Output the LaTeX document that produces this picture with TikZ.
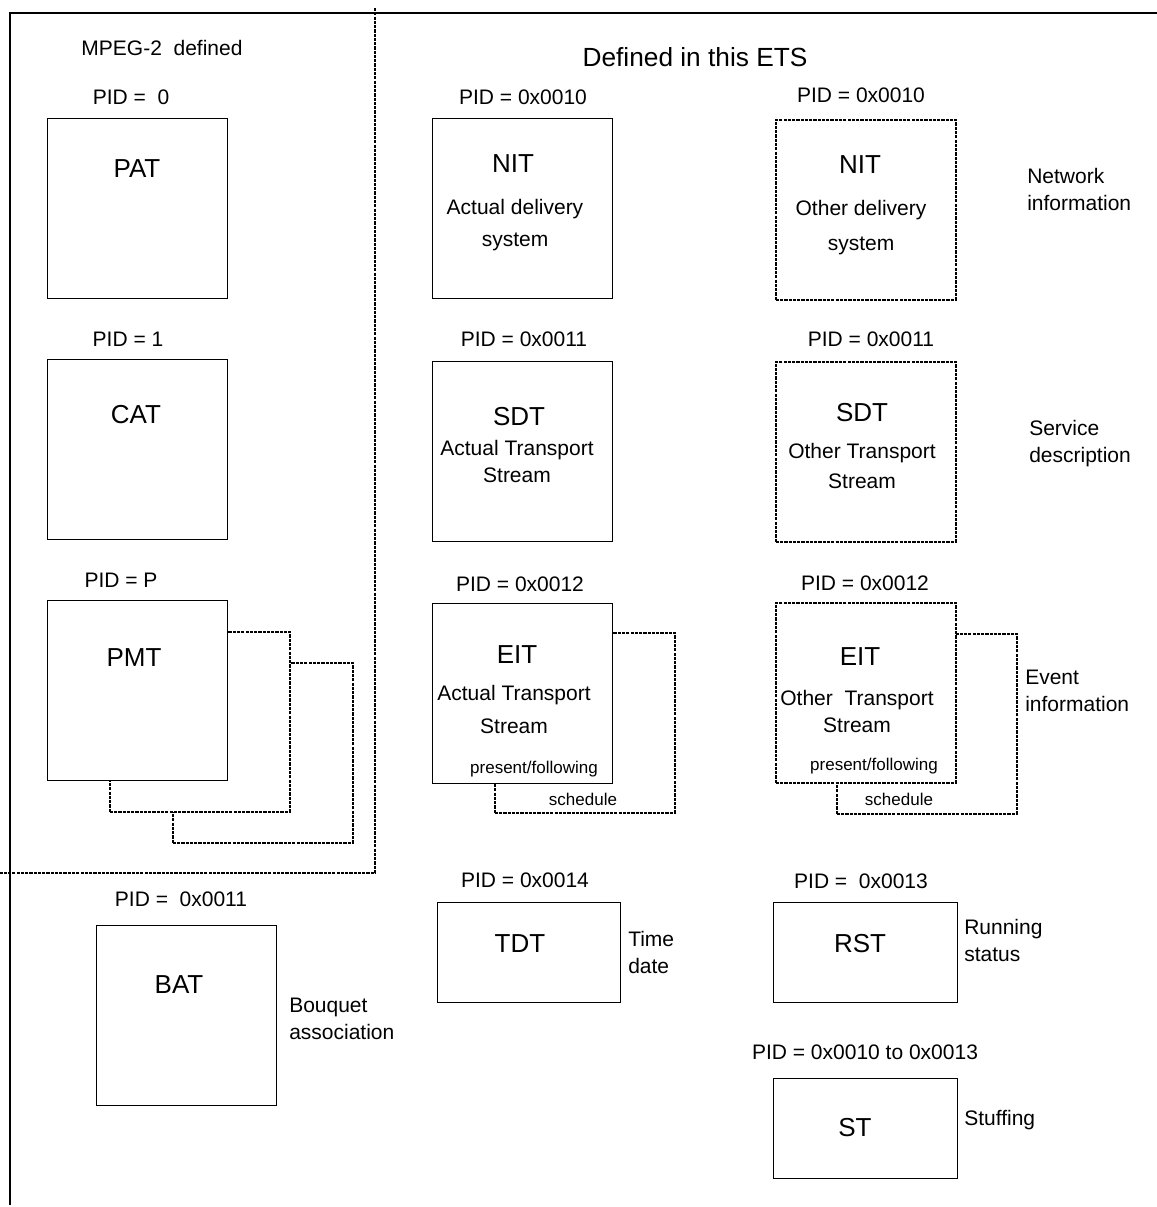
\documentclass[tikz,border=0pt]{standalone}
\usepackage{fontspec}
\setmainfont{Liberation Sans}
\newcommand\txtfont{\fontsize{15.75}{20}\selectfont}
\newcommand\titlefont{\fontsize{19.5}{22}\selectfont}
\newcommand\headfont{\fontsize{19.7}{23}\selectfont}
\newcommand\smallfont{\fontsize{12.75}{15}\selectfont}

\begin{document}
\begin{tikzpicture}[x=0.75pt, y=-0.75pt,
    every node/.style={inner sep=0pt, font=\txtfont},
    tbl/.style={draw, line width=0.9pt, fill=white, anchor=north west,
        minimum width=135pt, minimum height=135pt},
    othertbl/.style={tbl, line width=1.2pt, dash pattern=on 2.4pt off 0.8pt},
    lowtbl/.style={tbl, minimum width=138pt, minimum height=75pt},
    frame/.style={line width=1.4pt},
    divider/.style={line width=1.4pt, dash pattern=on 2.4pt off 0.8pt},
    title/.style={font=\titlefont},
    lines/.style={align=center, font={\fontsize{15.75}{#1}\selectfont}},
    note/.style={align=left, anchor=west, font={\fontsize{15.75}{20.25}\selectfont}},
    small/.style={font=\smallfont},
]
\useasboundingbox (0,0) rectangle (1157,1207);

% Outer frame and MPEG-2 area
\coordinate (tl) at (10,13);
\coordinate (tr) at (1157,13);
\coordinate (bl) at (10,1205);
\draw[frame] (tr) -- (tl) -- (bl);
\coordinate (divtop) at (375,8);
\coordinate (divcorner) at (375,873);
\coordinate (divleft) at (0,873);
\draw[divider] (divtop) -- (divcorner) -- (divleft);

\node (mpeg) at (162,48) {MPEG-2\ \ defined};
\node[font=\headfont] (ets) at (695,57) {Defined in this ETS};

% PAT
\node (pidpat) at (131,97) {PID =\ \ 0};
\node[tbl] (pat) at (47,118) {};
\node[title] (pattxt) at (137,169) {PAT};

% CAT
\node (pidcat) at (128,339) {PID = 1};
\node[tbl] (cat) at (47,359) {};
\node[title] (cattxt) at (136,415) {CAT};

% PMT (several)
\node (pidpmt) at (121,580) {PID = P};
\node[othertbl] (pmtC) at (172,662) {};
\node[othertbl] (pmtB) at (109,631) {};
\node[tbl] (pmt) at (47,600) {};
\node[title] (pmttxt) at (134,658) {PMT};

% NIT
\node (pidnit) at (523,97) {PID = 0x0010};
\node[tbl] (nit) at (432,118) {};
\node[title] (nittxt) at (513,164) {NIT};
\node[lines=24pt] (nitsub) at (515,225) {Actual delivery\\system};

\node (pidnito) at (861,95) {PID = 0x0010};
\node[othertbl] (nito) at (775,119) {};
\node[title] (nitotxt) at (860,165) {NIT};
\node[lines=26.25pt] (nitosub) at (861,228) {Other delivery\\system};
\node[note] (nitnote) at (1027,189) {Network\\information};

% SDT
\node (pidsdt) at (524,339) {PID = 0x0011};
\node[tbl] (sdt) at (432,361) {};
\node[title] (sdttxt) at (519,417) {SDT};
\node[lines=20.25pt] (sdtsub) at (517,461) {Actual Transport\\Stream};

\node (pidsdto) at (871,339) {PID = 0x0011};
\node[othertbl] (sdto) at (775,361) {};
\node[title] (sdtotxt) at (862,413) {SDT};
\node[lines=22.5pt] (sdtosub) at (862,466) {Other Transport\\Stream};
\node[note] (sdtnote) at (1029,444) {Service\\description};

% EIT
\node (pideit) at (520,584) {PID = 0x0012};
\node[othertbl] (eitB) at (494,632) {};
\node[tbl] (eit) at (432,603) {};
\node[title] (eittxt) at (517,655) {EIT};
\node[lines=24.75pt] (eitsub) at (514,709) {Actual Transport\\Stream};
\node[small] (eitpf) at (534,769) {present/following};
\node[small] (eitsch) at (583,799) {schedule};

\node (pideito) at (865,583) {PID = 0x0012};
\node[othertbl] (eitoB) at (836,633) {};
\node[othertbl] (eito) at (775,602) {};
\node[title] (eitotxt) at (860,657) {EIT};
\node[lines=20.25pt] (eitosub) at (857,711) {Other\ \ Transport\\Stream};
\node[small] (eitopf) at (874,766) {present/following};
\node[small] (eitosch) at (899,799) {schedule};
\node[note] (eitnote) at (1025,691) {Event\\information};

% BAT
\node (pidbat) at (181,899) {PID =\ \ 0x0011};
\node[tbl] (bat) at (96,925) {};
\node[title] (battxt) at (179,985) {BAT};
\node[note] (batnote) at (289,1019) {Bouquet\\association};

% TDT, RST, ST
\node (pidtdt) at (525,880) {PID = 0x0014};
\node[lowtbl, minimum width=137.25pt] (tdt) at (437,902) {};
\node[title] (tdttxt) at (520,944) {TDT};
\node[note] (tdtnote) at (628,952) {Time\\date};

\node (pidrst) at (861,881) {PID =\ \ 0x0013};
\node[lowtbl] (rst) at (773,902) {};
\node[title] (rsttxt) at (860,944) {RST};
\node[note] (rstnote) at (964,940) {Running\\status};

\node (pidst) at (865,1052) {PID = 0x0010 to 0x0013};
\node[lowtbl] (st) at (773,1078) {};
\node[title] (sttxt) at (855,1128) {ST};
\node[note] (stnote) at (964,1120) {Stuffing};

\end{tikzpicture}
\end{document}
